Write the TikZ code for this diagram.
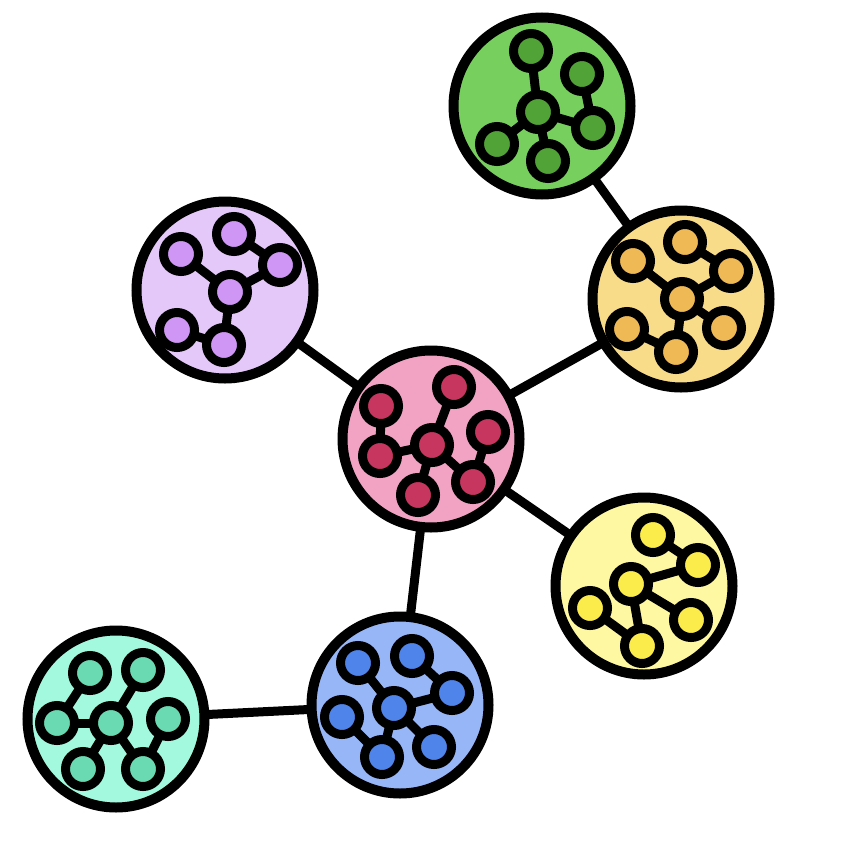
\documentclass[tikz,border=0pt]{standalone}
\usepackage{tikz}
\usetikzlibrary{positioning}

\definecolor{grnA}{HTML}{77CF5E}\definecolor{grnB}{HTML}{52A337}
\definecolor{purA}{HTML}{E5C8FA}\definecolor{purB}{HTML}{D096F5}
\definecolor{orgA}{HTML}{F9DC8A}\definecolor{orgB}{HTML}{EFB955}
\definecolor{pnkA}{HTML}{F2A3C3}\definecolor{pnkB}{HTML}{C7365F}
\definecolor{ylwA}{HTML}{FDF8A1}\definecolor{ylwB}{HTML}{FCEC4B}
\definecolor{bluA}{HTML}{96B6F8}\definecolor{bluB}{HTML}{4F84EA}
\definecolor{tlA}{HTML}{A2F9DD}\definecolor{tlB}{HTML}{6ADAB2}

\begin{document}
\begin{tikzpicture}[
  x=1pt, y=-1pt,
  grp/.style={circle, draw, line width=10pt, inner sep=0pt, outer sep=0pt,
              minimum size=177pt},
  mol/.style={circle, draw, line width=9pt, inner sep=0pt, outer sep=0pt,
              minimum size=35pt},
  ln/.style={line width=9pt},
]
  \useasboundingbox (0,0) rectangle (844,846);

  % big groups
  \node[grp, fill=grnA] (grn) at (542,106) {};
  \node[grp, fill=purA] (pur) at (225,290) {};
  \node[grp, fill=orgA] (org) at (681,299) {};
  \node[grp, fill=pnkA] (pnk) at (431,439) {};
  \node[grp, fill=ylwA] (ylw) at (644,586) {};
  \node[grp, fill=bluA] (blu) at (400,705) {};
  \node[grp, fill=tlA]  (tl)  at (116,719) {};

  \draw[ln] (grn) -- (org);
  \draw[ln] (pur) -- (pnk);
  \draw[ln] (org) -- (pnk);
  \draw[ln] (pnk) -- (ylw);
  \draw[ln] (pnk) -- (blu);
  \draw[ln] (blu) -- (tl);

  % green molecule
  \node[mol, fill=grnB] (g1) at (531,51) {};
  \node[mol, fill=grnB] (g2) at (582,74) {};
  \node[mol, fill=grnB] (g3) at (538,112) {};
  \node[mol, fill=grnB] (g4) at (593,128) {};
  \node[mol, fill=grnB] (g5) at (497,144) {};
  \node[mol, fill=grnB] (g6) at (548,161) {};
  \draw[ln] (g1) -- (g3);
  \draw[ln] (g2) -- (g4);
  \draw[ln] (g3) -- (g4);
  \draw[ln] (g3) -- (g5);
  \draw[ln] (g3) -- (g6);

  % purple molecule
  \node[mol, fill=purB] (p1) at (181,254) {};
  \node[mol, fill=purB] (p2) at (234,234) {};
  \node[mol, fill=purB] (p3) at (280,265) {};
  \node[mol, fill=purB] (p4) at (230,292) {};
  \node[mol, fill=purB] (p5) at (177,330) {};
  \node[mol, fill=purB] (p6) at (224,345) {};
  \draw[ln] (p1) -- (p4);
  \draw[ln] (p2) -- (p3);
  \draw[ln] (p3) -- (p4);
  \draw[ln] (p4) -- (p6);
  \draw[ln] (p5) -- (p6);

  % orange molecule
  \node[mol, fill=orgB] (o1) at (685,242) {};
  \node[mol, fill=orgB] (o2) at (633,261) {};
  \node[mol, fill=orgB] (o3) at (731,271) {};
  \node[mol, fill=orgB] (o4) at (682,299) {};
  \node[mol, fill=orgB] (o5) at (627,329) {};
  \node[mol, fill=orgB] (o6) at (724,328) {};
  \node[mol, fill=orgB] (o7) at (676,352) {};
  \draw[ln] (o2) -- (o4);
  \draw[ln] (o1) -- (o3);
  \draw[ln] (o3) -- (o4);
  \draw[ln] (o4) -- (o7);
  \draw[ln] (o5) -- (o7);
  \draw[ln] (o4) -- (o6);

  % pink molecule
  \node[mol, fill=pnkB] (k1) at (381,406) {};
  \node[mol, fill=pnkB] (k2) at (454,387) {};
  \node[mol, fill=pnkB] (k3) at (488,432) {};
  \node[mol, fill=pnkB] (k4) at (380,456) {};
  \node[mol, fill=pnkB] (k5) at (432,445) {};
  \node[mol, fill=pnkB] (k6) at (418,495) {};
  \node[mol, fill=pnkB] (k7) at (473,482) {};
  \draw[ln] (k1) -- (k4);
  \draw[ln] (k4) -- (k5);
  \draw[ln] (k5) -- (k2);
  \draw[ln] (k5) -- (k6);
  \draw[ln] (k5) -- (k7);
  \draw[ln] (k3) -- (k7);

  % yellow molecule
  \node[mol, fill=ylwB] (y1) at (653,535) {};
  \node[mol, fill=ylwB] (y2) at (698,565) {};
  \node[mol, fill=ylwB] (y3) at (631,584) {};
  \node[mol, fill=ylwB] (y4) at (590,608) {};
  \node[mol, fill=ylwB] (y5) at (691,620) {};
  \node[mol, fill=ylwB] (y6) at (642,646) {};
  \draw[ln] (y1) -- (y2);
  \draw[ln] (y3) -- (y2);
  \draw[ln] (y3) -- (y5);
  \draw[ln] (y3) -- (y6);
  \draw[ln] (y4) -- (y6);

  % blue molecule
  \node[mol, fill=bluB] (b1) at (358,663) {};
  \node[mol, fill=bluB] (b2) at (412,656) {};
  \node[mol, fill=bluB] (b3) at (452,693) {};
  \node[mol, fill=bluB] (b4) at (394,708) {};
  \node[mol, fill=bluB] (b5) at (342,717) {};
  \node[mol, fill=bluB] (b6) at (382,757) {};
  \node[mol, fill=bluB] (b7) at (434,747) {};
  \draw[ln] (b1) -- (b4);
  \draw[ln] (b2) -- (b3);
  \draw[ln] (b3) -- (b4);
  \draw[ln] (b4) -- (b6);
  \draw[ln] (b5) -- (b6);
  \draw[ln] (b4) -- (b7);

  % teal molecule
  \node[mol, fill=tlB] (t1) at (90,673) {};
  \node[mol, fill=tlB] (t2) at (143,670) {};
  \node[mol, fill=tlB] (t3) at (57,723) {};
  \node[mol, fill=tlB] (t4) at (111,723) {};
  \node[mol, fill=tlB] (t5) at (168,719) {};
  \node[mol, fill=tlB] (t6) at (83,769) {};
  \node[mol, fill=tlB] (t7) at (143,769) {};
  \draw[ln] (t1) -- (t3);
  \draw[ln] (t3) -- (t4);
  \draw[ln] (t2) -- (t4);
  \draw[ln] (t4) -- (t6);
  \draw[ln] (t4) -- (t7);
  \draw[ln] (t5) -- (t7);
\end{tikzpicture}
\end{document}
